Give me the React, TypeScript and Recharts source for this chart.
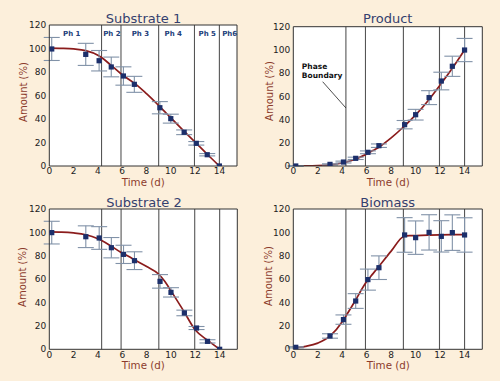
import React from 'react';
import {
  ComposedChart,
  Line,
  Scatter,
  XAxis,
  YAxis,
  ErrorBar,
  ReferenceLine,
  ReferenceDot,
  CartesianGrid,
} from 'recharts';

const W = 500;
const H = 381;
const BG = '#fcefdb';
const FONT = '"DejaVu Sans", sans-serif';

const timeTicks = [0, 2, 4, 6, 8, 10, 12, 14];
const amountTicks = [0, 20, 40, 60, 80, 100, 120];
const phaseBoundaries = [4.3, 5.9, 9.0, 11.95, 14.0];
const phaseLabels = ['Ph 1', 'Ph 2', 'Ph 3', 'Ph 4', 'Ph 5', 'Ph6'];
const phaseLabelTimes = [1.85, 5.15, 7.5, 10.2, 13.0, 14.85];

// measured samples
const sampleTimes = [0.2, 3.0, 4.1, 5.1, 6.1, 7.0, 9.1, 10.0, 11.1, 12.1, 13.0, 14.0];
const substrate1 = [99.6, 95.0, 89.6, 84.3, 76.6, 69.5, 49.6, 40.3, 28.7, 19.3, 9.6, 0];
const substrate1Err = [9.8, 9.4, 8.7, 8.4, 7.8, 6.8, 5.2, 3.8, 2.0, 1.5, 1.0, 0];
const product = [0, 1.4, 3.4, 6.6, 11.8, 17.5, 35.6, 44.2, 58.9, 73.2, 85.9, 99.9];
const productErr = [0.3, 0.5, 0.8, 1.0, 1.2, 1.5, 3.6, 4.6, 6.0, 7.6, 8.7, 10];
const substrate2 = [99.8, 96.3, 95.2, 86.9, 81.2, 75.8, 58.1, 48.7, 31.1, 18.2, 6.8, 0];
const substrate2Err = [9.7, 9.3, 9.7, 8.7, 7.8, 7.6, 5.8, 4.0, 2.4, 1.3, 1.4, 0];
const biomass = [1.7, 11.4, 25.4, 41.3, 59.6, 69.8, 97.8, 95.5, 100, 96.6, 99.8, 97.8];
const biomassErr = [0.5, 1.9, 4.0, 6.3, 9.0, 10.1, 14.8, 14.3, 15.1, 13.4, 15.2, 14.7];

// model curves
const curveTimes = [0, 1, 2, 3, 4, 4.3, 5, 5.9, 6.5, 7, 8, 9, 9.5, 10, 11, 12, 13, 14];
const substrate1Model = [100.3, 100.1, 99.6, 98.2, 94.3, 92.3, 86.5, 78.5, 74, 70.5, 61.5, 51.5, 46.3, 41, 30.5, 20.3, 10, 0];
const productModel = [0, 0.05, 0.3, 1.0, 2.6, 3.3, 5.6, 9.8, 13.3, 16.2, 24.2, 33.6, 38.7, 44, 56, 69.8, 84.2, 100];
const substrate2Model = [100.4, 100.2, 99.5, 98.0, 94.5, 93.0, 88.8, 82.8, 79.5, 76.5, 70.8, 64.2, 58.0, 50.0, 33.5, 16.5, 7.8, 0];
const biomassModel = [1.0, 2.5, 5.3, 11.2, 23.5, 28.5, 40.5, 56.5, 64.5, 71, 84, 96.3, 97.2, 97.3, 97.6, 97.9, 98, 98];

const toPoints = (vals: number[], errs: number[]) =>
  sampleTimes.map((t, i) => ({ t, v: vals[i], e: errs[i] }));
const toCurve = (vals: number[]) => curveTimes.map((t, i) => ({ t, v: vals[i] }));

type Box = { left: number; top: number; right: number; bottom: number };

const Square = (p: any) => (
  <rect x={p.cx - 2.6} y={p.cy - 2.6} width={5.2} height={5.2} fill="#1c2f6b" />
);

const tickStyle = { fontSize: 9, fill: '#222', fontFamily: FONT };

function Panel({
  box,
  points,
  curve,
  phases,
  note,
}: {
  box: Box;
  points: { t: number; v: number; e: number }[];
  curve: { t: number; v: number }[];
  phases?: boolean;
  note?: boolean;
}) {
  const margin = {
    left: box.left - 30,
    top: box.top,
    right: W - box.right,
    bottom: H - box.bottom - 24,
  };
  return (
    <div style={{ position: 'absolute', left: 0, top: 0 }}>
      <ComposedChart width={W} height={H} margin={margin}>
        <CartesianGrid fill="#ffffff" horizontal={false} vertical={false} />
        <XAxis
          dataKey="t"
          type="number"
          domain={[0, 15.45]}
          allowDataOverflow
          ticks={timeTicks}
          height={24}
          tickSize={0}
          tickMargin={2}
          tickLine={false}
          axisLine={{ stroke: '#333' }}
          tick={tickStyle}
        />
        <XAxis
          xAxisId="in"
          dataKey="t"
          type="number"
          domain={[0, 15.45]}
          allowDataOverflow
          ticks={timeTicks}
          mirror
          height={1}
          tickSize={3}
          tick={false}
          axisLine={false}
          tickLine={{ stroke: '#333' }}
        />
        <XAxis
          xAxisId="top"
          orientation="top"
          dataKey="t"
          type="number"
          domain={[0, 15.45]}
          allowDataOverflow
          ticks={timeTicks}
          mirror
          height={1}
          tickSize={3}
          tick={false}
          axisLine={{ stroke: '#333' }}
          tickLine={{ stroke: '#333' }}
        />
        <YAxis
          dataKey="v"
          type="number"
          domain={[0, 120]}
          allowDataOverflow
          ticks={amountTicks}
          width={30}
          tickSize={0}
          tickMargin={3}
          tickLine={false}
          axisLine={{ stroke: '#333' }}
          tick={tickStyle}
        />
        <YAxis
          yAxisId="in"
          type="number"
          domain={[0, 120]}
          allowDataOverflow
          ticks={amountTicks}
          mirror
          width={1}
          tickSize={3}
          tick={false}
          axisLine={false}
          tickLine={{ stroke: '#333' }}
        />
        <YAxis
          yAxisId="right"
          orientation="right"
          type="number"
          domain={[0, 120]}
          allowDataOverflow
          ticks={amountTicks}
          mirror
          width={1}
          tickSize={3}
          tick={false}
          axisLine={{ stroke: '#333' }}
          tickLine={{ stroke: '#333' }}
        />
        {phaseBoundaries.map((b) => (
          <ReferenceLine key={b} x={b} stroke="#555" strokeWidth={1.1} />
        ))}
        {phases &&
          phaseLabels.map((lab, i) => (
            <ReferenceDot
              key={lab}
              x={phaseLabelTimes[i]}
              y={112.5}
              r={0}
              ifOverflow="visible"
              shape={(p: any) => (
                <text
                  x={p.cx}
                  y={p.cy + 2.5}
                  textAnchor="middle"
                  fontFamily={FONT}
                  fontWeight="bold"
                  fontSize={7}
                  fill="#23407a"
                >
                  {lab}
                </text>
              )}
            />
          ))}
        {note && (
          <ReferenceLine
            segment={[
              { x: 2.4, y: 72.6 },
              { x: 4.3, y: 50 },
            ]}
            stroke="#222"
            strokeWidth={0.8}
          />
        )}
        {note && (
          <ReferenceDot
            x={0.7}
            y={83.6}
            r={0}
            ifOverflow="visible"
            shape={(p: any) => (
              <text x={p.cx} y={p.cy} fontFamily={FONT} fontWeight="bold" fontSize={7.5} fill="#111">
                <tspan x={p.cx}>Phase</tspan>
                <tspan x={p.cx} dy={9}>Boundary</tspan>
              </text>
            )}
          />
        )}
        <Line
          data={curve}
          dataKey="v"
          type="monotone"
          stroke="#8b1c1c"
          strokeWidth={1.7}
          dot={false}
          isAnimationActive={false}
        />
        <Scatter data={points} dataKey="v" shape={Square} isAnimationActive={false}>
          <ErrorBar dataKey="e" direction="y" width={8} stroke="#8192a8" strokeWidth={1.1} />
        </Scatter>
      </ComposedChart>
    </div>
  );
}

const titles = [
  { text: 'Substrate 1', x: 143.5, y: 22.7 },
  { text: 'Product', x: 387.8, y: 23 },
  { text: 'Substrate 2', x: 144, y: 207 },
  { text: 'Biomass', x: 387.7, y: 207 },
];
const xLabels = [
  { x: 143.3, y: 186 },
  { x: 388.3, y: 185.5 },
  { x: 143.3, y: 369 },
  { x: 388.3, y: 369 },
];
const yLabels = [
  { x: 23.5, y: 92 },
  { x: 269.5, y: 91 },
  { x: 22.5, y: 277 },
  { x: 268, y: 276 },
];

export default function App() {
  return (
    <div
      style={{
        position: 'absolute',
        left: 0,
        top: 0,
        width: W,
        height: H,
        background: BG,
        overflow: 'hidden',
      }}
    >
      <Panel
        box={{ left: 49.3, top: 25, right: 237, bottom: 166 }}
        points={toPoints(substrate1, substrate1Err)}
        curve={toCurve(substrate1Model)}
        phases
      />
      <Panel
        box={{ left: 293.3, top: 26.7, right: 482.3, bottom: 166 }}
        points={toPoints(product, productErr)}
        curve={toCurve(productModel)}
        note
      />
      <Panel
        box={{ left: 49.3, top: 209, right: 237.3, bottom: 349.3 }}
        points={toPoints(substrate2, substrate2Err)}
        curve={toCurve(substrate2Model)}
      />
      <Panel
        box={{ left: 293.3, top: 209, right: 482.3, bottom: 349.3 }}
        points={toPoints(biomass, biomassErr)}
        curve={toCurve(biomassModel)}
      />
      <svg
        width={W}
        height={H}
        style={{ position: 'absolute', left: 0, top: 0, pointerEvents: 'none' }}
      >
        {titles.map((t) => (
          <text key={t.text} x={t.x} y={t.y} textAnchor="middle" fontFamily={FONT} fontSize={13} fill="#34406e">
            {t.text}
          </text>
        ))}
        {xLabels.map((l, i) => (
          <text key={i} x={l.x} y={l.y} textAnchor="middle" fontFamily={FONT} fontSize={10.3} fill="#8c3b2c">
            Time (d)
          </text>
        ))}
        {yLabels.map((l, i) => (
          <text
            key={i}
            x={l.x}
            y={l.y}
            transform={`rotate(-90 ${l.x} ${l.y})`}
            textAnchor="middle"
            dominantBaseline="central"
            fontFamily={FONT}
            fontSize={10}
            fill="#8c3b2c"
          >
            Amount (%)
          </text>
        ))}
      </svg>
    </div>
  );
}
